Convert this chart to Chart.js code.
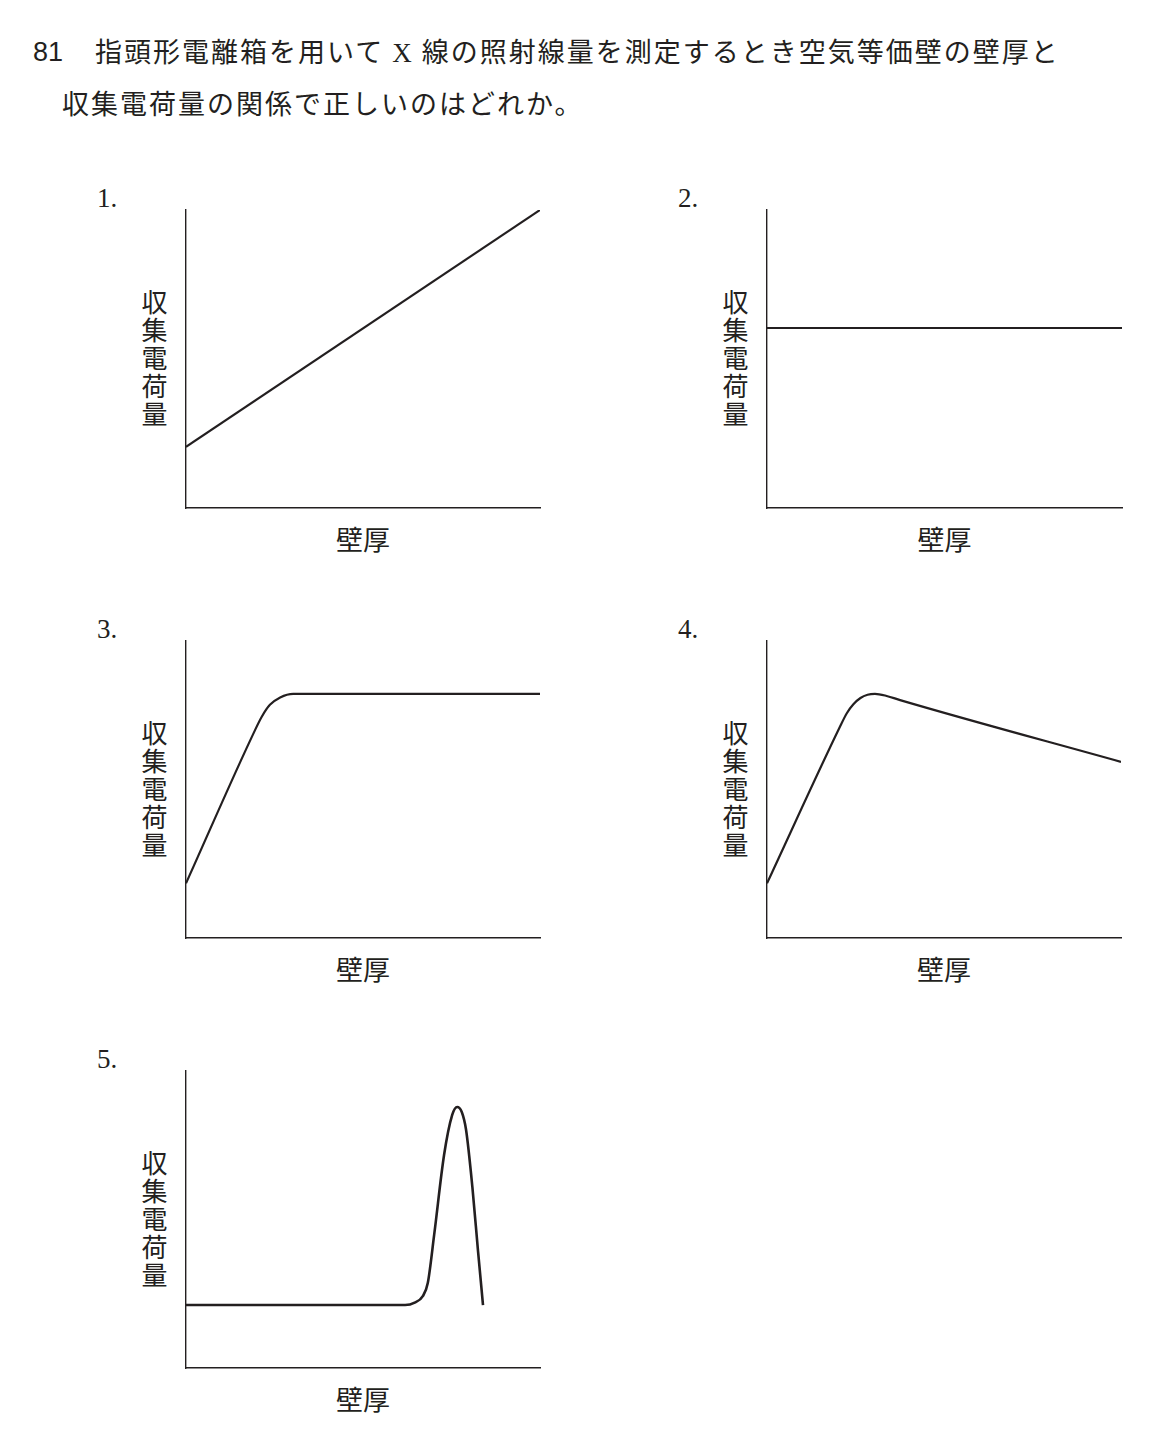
<!DOCTYPE html>
<html>
<head>
<meta charset="utf-8">
<script src="https://cdn.jsdelivr.net/npm/chart.js@4.4.1/dist/chart.umd.min.js"></script>
<style>
  body { margin: 0; background: #fff; }
  #page { position: relative; width: 1156px; height: 1449px; color: #231f20; }
  .q { position: absolute; font-family: "Noto Sans CJK JP", sans-serif; font-size: 27px; letter-spacing: 2px; white-space: nowrap; line-height: 1; }
  .qno { position: absolute; font-family: "Liberation Sans Narrow", "Liberation Sans", sans-serif; font-size: 27px; line-height: 1; }
  .num { position: absolute; font-family: "Liberation Serif", serif; font-size: 27px; line-height: 1; }
  .xt { position: absolute; font-family: "Noto Sans CJK JP", sans-serif; font-size: 27px; line-height: 1; width: 120px; text-align: center; }
  .yt { position: absolute; font-family: "Noto Sans CJK JP", sans-serif; font-size: 26px; line-height: 1; writing-mode: vertical-rl; letter-spacing: 2px; }
  canvas { position: absolute; }
</style>
</head>
<body>
<div id="page"></div>
<script>
// question text
var qNumber = "81";
var qLine1 = "指頭形電離箱を用いて <span style=\"font-family:'Liberation Serif',serif\">X</span> 線の照射線量を測定するとき空気等価壁の壁厚と";
var qLine2 = "収集電荷量の関係で正しいのはどれか。";

// axis titles and choice labels
var xTitle = "壁厚";
var yTitle = "収集電荷量";
var choiceLabels = ["1.", "2.", "3.", "4.", "5."];

// curves, x = 壁厚 (0-100), y = 収集電荷量 (0-100)
var c1X = [0, 100];
var c1Y = [20.5, 100];

var c2X = [0, 100];
var c2Y = [60.4, 60.4];

var c3X = [0, 19.5, 21.4, 23.7, 26.6, 30.3, 100];
var c3Y = [18.4, 70.0, 74.5, 78.5, 81.0, 82.2, 82.2];

var c4X = [0, 20.6, 22.5, 24.4, 26.4, 28.4, 30.5, 33.8, 37.6, 100];
var c4Y = [18.4, 71.1, 75.6, 78.7, 80.8, 81.9, 82.2, 81.5, 80.1, 59.3];

var c5X = [0, 61.9, 64.6, 66.9, 68.3, 70.1, 72.9, 75.2, 76.6, 77.9, 79.1, 80.9, 82.5, 83.9];
var c5Y = [21.2, 21.2, 22.0, 24.2, 28.6, 44.8, 71.7, 85.2, 87.9, 86.2, 80.3, 60.9, 39.3, 21.2];

var series = [
  { xs: c1X, ys: c1Y, smooth: false, left: 186, top: 210, w: 354, h: 298 },
  { xs: c2X, ys: c2Y, smooth: false, left: 767, top: 210, w: 355, h: 298 },
  { xs: c3X, ys: c3Y, smooth: true, left: 186, top: 641, w: 354, h: 297 },
  { xs: c4X, ys: c4Y, smooth: true, left: 767, top: 641, w: 354, h: 297 },
  { xs: c5X, ys: c5Y, smooth: true, left: 186, top: 1071, w: 354, h: 297 }
];

var page = document.getElementById("page");

function addDiv(cls, html, left, top) {
  var d = document.createElement("div");
  d.className = cls;
  d.innerHTML = html;
  d.style.left = left + "px";
  d.style.top = top + "px";
  page.appendChild(d);
  return d;
}

addDiv("qno", qNumber, 33, 39);
addDiv("q", qLine1, 95, 37);
addDiv("q", qLine2, 62, 89);

var pad = 6;

series.forEach(function (s, i) {
  addDiv("num", choiceLabels[i], s.left - 89, s.top - 25);
  addDiv("xt", xTitle, s.left + s.w / 2 - 60, s.top + s.h + 17);
  addDiv("yt", yTitle, s.left - 45, s.top + s.h / 2 - 70);

  var cv = document.createElement("canvas");
  cv.width = s.w + pad * 2;
  cv.height = s.h + pad * 2;
  cv.style.left = (s.left - pad) + "px";
  cv.style.top = (s.top - pad) + "px";
  page.appendChild(cv);

  var pts = s.xs.map(function (x, k) { return { x: x, y: s.ys[k] }; });

  new Chart(cv, {
    type: "line",
    data: {
      datasets: [{
        data: pts,
        borderColor: "#231f20",
        borderWidth: i == 4 ? 2.6 : 2.2,
        pointRadius: 0,
        fill: false,
        tension: s.smooth ? 0.4 : 0,
        cubicInterpolationMode: s.smooth ? "monotone" : "default"
      }]
    },
    options: {
      responsive: false,
      animation: false,
      layout: { padding: pad },
      plugins: { legend: { display: false }, tooltip: { enabled: false } },
      scales: {
        x: {
          type: "linear", min: 0, max: 100,
          ticks: { display: false },
          grid: { display: false, drawTicks: false },
          border: { display: true, color: "#231f20", width: 1.4 }
        },
        y: {
          type: "linear", min: 0, max: 100,
          ticks: { display: false },
          grid: { display: false, drawTicks: false },
          border: { display: true, color: "#231f20", width: 1.4 }
        }
      }
    }
  });
});
</script>
</body>
</html>
